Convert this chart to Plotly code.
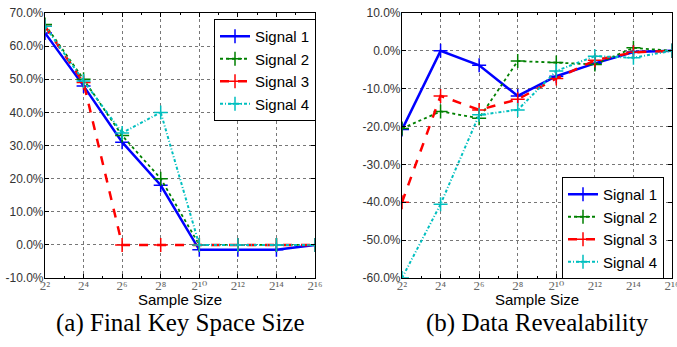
import plotly.graph_objects as go

exps = [2, 4, 6, 8, 10, 12, 14, 16]
tick_text = ["2²", "2⁴", "2⁶", "2⁸", "2¹⁰", "2¹²", "2¹⁴", "2¹⁶"]
names = ["Signal 1", "Signal 2", "Signal 3", "Signal 4"]

# (a) Final Key Space Size, in %
keyspace = {
    "Signal 1": [64.0, 48.0, 31.0, 18.0, -1.5, -1.5, -1.5, 0.0],
    "Signal 2": [66.5, 50.0, 33.0, 20.0, 0.0, 0.0, 0.0, 0.0],
    "Signal 3": [66.0, 49.0, 0.0, 0.0, 0.0, 0.0, 0.0, 0.0],
    "Signal 4": [66.0, 49.5, 33.8, 40.0, 0.0, 0.0, 0.0, 0.0],
}
# (b) Data Revealability, in %
reveal = {
    "Signal 1": [-20.8, 0.0, -3.8, -11.9, -6.7, -3.3, -0.3, 0.0],
    "Signal 2": [-20.5, -16.0, -17.8, -2.7, -3.1, -3.6, 0.8, 0.0],
    "Signal 3": [-40.0, -11.9, -15.6, -12.8, -7.3, -2.5, -0.4, 0.0],
    "Signal 4": [-60.0, -40.5, -16.9, -15.6, -5.3, -1.4, -1.8, 0.0],
}
left_y_ticks = [70, 60, 50, 40, 30, 20, 10, 0, -10]
right_y_ticks = [10, 0, -10, -20, -30, -40, -50, -60]

styles = {
    "Signal 1": dict(color="#0000FF", dash="solid", width=2.5),
    "Signal 2": dict(color="#008000", dash="dot", width=1.8),
    "Signal 3": dict(color="#FF0000", dash="dash", width=2.5),
    "Signal 4": dict(color="#00BFBF", dash="3px,2px,1px,2px", width=2),
}

fig = go.Figure()
for name in names:
    st = styles[name]
    for data, xa, ya, lg in [(keyspace, "x", "y", "legend"), (reveal, "x2", "y2", "legend2")]:
        fig.add_trace(go.Scatter(
            x=exps, y=data[name], name=name, mode="lines+markers",
            xaxis=xa, yaxis=ya, legend=lg,
            line=dict(color=st["color"], dash=st["dash"], width=st["width"]),
            marker=dict(symbol="cross-thin", size=10, color=st["color"],
                        line=dict(color=st["color"], width=1.5)),
        ))

sans = "Liberation Sans, Arial, sans-serif"
serif = "Liberation Serif, DejaVu Serif, serif"

def xaxis(domain):
    return dict(domain=domain, range=[2, 16], tickvals=exps, ticktext=tick_text, automargin=False,
                tickfont=dict(family=serif, size=13, color="#666"),
                ticklabelstandoff=-5, ticklabeloverflow="allow",
                showgrid=True, gridcolor="#777", griddash="dot", gridwidth=1,
                zeroline=False, showline=True, linecolor="black", linewidth=1.2, mirror="ticks",
                ticks="inside", ticklen=4, tickcolor="black",
                minor=dict(dtick=1, ticks="inside", ticklen=2, tickcolor="black", showgrid=False))

def yaxis(domain, rng, ticks, anchor):
    return dict(domain=domain, range=rng, tickvals=ticks, ticktext=["%.1f%%" % t for t in ticks],
                tickfont=dict(family=sans, size=12, color="#333"), anchor=anchor, automargin=False,
                ticklabelstandoff=-2, ticklabeloverflow="allow",
                showgrid=True, gridcolor="#777", griddash="dot", gridwidth=1,
                zeroline=False, showline=True, linecolor="black", linewidth=1.2, mirror="ticks",
                ticks="inside", ticklen=4, tickcolor="black")

ydom = [1 - 278 / 347, 1 - 13 / 347]

def label(text, xpx, ypx, family, size):
    return dict(text=text, x=xpx / 677, y=1 - ypx / 347, xref="paper", yref="paper",
                xanchor="center", yanchor="middle", showarrow=False,
                font=dict(family=family, size=size, color="black"))

fig.update_layout(
    width=677, height=347, margin=dict(l=0, r=0, t=0, b=0, autoexpand=False),
    paper_bgcolor="white", plot_bgcolor="white",
    xaxis=xaxis([45 / 677, 315 / 677]) | dict(anchor="y"),
    yaxis=yaxis(ydom, [-10, 70], left_y_ticks, "x"),
    xaxis2=xaxis([402 / 677, 672 / 677]) | dict(anchor="y2"),
    yaxis2=yaxis(ydom, [-60, 10], right_y_ticks, "x2"),
    legend=dict(x=316 / 677, y=1 - 19 / 347, xanchor="right", yanchor="top",
                bgcolor="white", bordercolor="black", borderwidth=1,
                font=dict(family=sans, size=15, color="black"), tracegroupgap=0),
    legend2=dict(x=664 / 677, y=1 - 177 / 347, xanchor="right", yanchor="top",
                 bgcolor="white", bordercolor="black", borderwidth=1,
                 font=dict(family=sans, size=15, color="black"), tracegroupgap=0),
    annotations=[
        label("Sample Size", 180, 299, sans, 15),
        label("Sample Size", 537, 299, sans, 15),
        label("(a) Final Key Space Size", 180, 323, serif, 25),
        label("(b) Data Revealability", 537, 323, serif, 25),
    ],
)

fig.write_html("out.html")
